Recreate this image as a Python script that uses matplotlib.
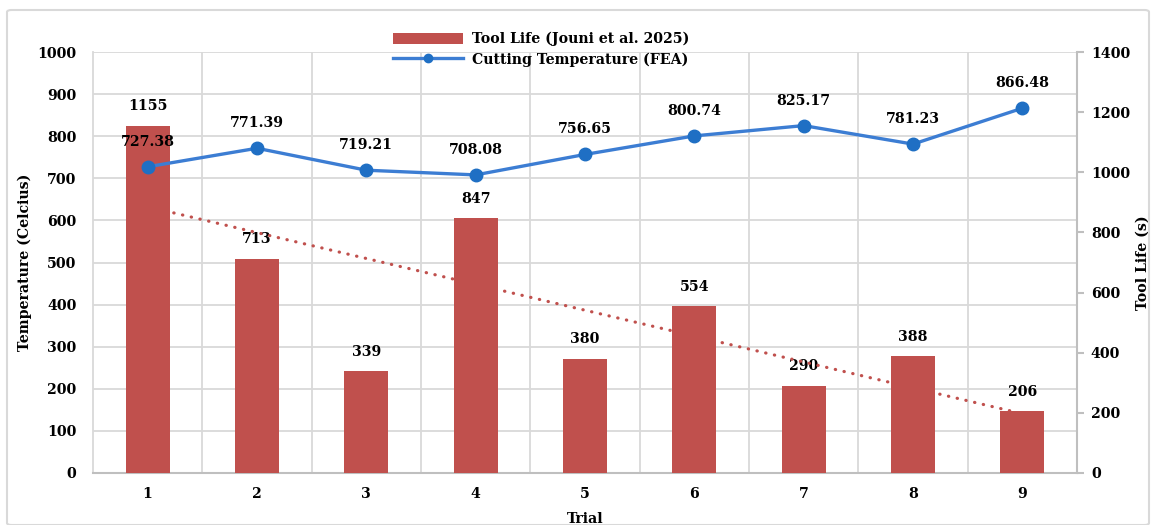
import matplotlib.pyplot as plt
import numpy as np
from matplotlib.patches import FancyBboxPatch
from matplotlib.lines import Line2D
from matplotlib.patches import Patch

plt.rcParams['font.family'] = ['DejaVu Serif']
plt.rcParams['font.weight'] = 'bold'

trials = [1, 2, 3, 4, 5, 6, 7, 8, 9]
tool_life = [1155, 713, 339, 847, 380, 554, 290, 388, 206]
cut_temp = [727.38, 771.39, 719.21, 708.08, 756.65, 800.74, 825.17, 781.23, 866.48]

bar_col = '#C0504D'
line_col = '#3C7DD3'
mark_col = '#1F6FC4'
grid_col = '#D9D9D9'
fs = 10.2

fig = plt.figure(figsize=(11.54, 5.25), dpi=100)
ax = fig.add_axes([93 / 1154, 1 - 473 / 525, (1077 - 93) / 1154, (473 - 52) / 525])
ax2 = ax.twinx()

# outer frame
fig.patches.append(FancyBboxPatch((7 / 1154, 0.0), 1142 / 1154, 1 - 10 / 525,
                                  boxstyle='round,pad=0,rounding_size=0.004',
                                  transform=fig.transFigure, fill=False,
                                  edgecolor=grid_col, linewidth=1.5, zorder=0))

x = np.array(trials)

# temperature axis (left) carries the grid and the line
ax.set_xlim(0.5, 9.5)
ax.set_ylim(0, 1000)
ax.set_yticks(np.arange(0, 1001, 100))
ax.set_xticks(x)
ax.set_xticks(np.arange(1.5, 9.5, 1), minor=True)
ax.grid(axis='y', color=grid_col, linewidth=1.3)
ax.grid(axis='x', which='minor', color=grid_col, linewidth=1.3)
ax.tick_params(axis='x', which='both', length=0, pad=10, labelsize=fs)
ax.tick_params(axis='y', length=0, pad=12, labelsize=fs)
for s in ['top', 'right']:
    ax.spines[s].set_visible(False)
ax.spines['left'].set_color(grid_col)
ax.spines['left'].set_linewidth(1.3)
ax.spines['bottom'].set_color('#BFBFBF')
ax.spines['bottom'].set_linewidth(1.5)
ax.set_ylabel('Temperature (Celcius)', fontsize=fs, fontweight='bold', labelpad=4)
ax.set_xlabel('Trial', fontsize=fs, fontweight='bold', labelpad=8)

# tool life bars on the right axis
ax2.set_ylim(0, 1400)
ax2.set_yticks(np.arange(0, 1401, 200))
ax2.bar(x, tool_life, width=0.4, color=bar_col, zorder=2)
for xi, v in zip(x, tool_life):
    ax2.annotate(f'{v}', (xi, v), xytext=(0, 9), textcoords='offset points',
                 ha='center', va='bottom', fontsize=fs, fontweight='bold')

# linear trend of tool life
k, b = np.polyfit(x, tool_life, 1)
ax2.plot(x, k * x + b, linestyle=(0, (0.1, 2.7)), color=bar_col, linewidth=2.3,
         dash_capstyle='round', zorder=3)

for s in ['top', 'left', 'bottom']:
    ax2.spines[s].set_visible(False)
ax2.spines['right'].set_color('#BFBFBF')
ax2.spines['right'].set_linewidth(1.5)
ax2.tick_params(axis='y', length=5, width=1.5, color='#BFBFBF', pad=5, labelsize=fs)
ax2.set_ylabel('Tool Life (s)', fontsize=fs, fontweight='bold', labelpad=4)

# line drawn on a third overlay so it sits above the bars
ax3 = ax.twinx()
ax3.set_ylim(0, 1000)
ax3.axis('off')
ax3.plot(x, cut_temp, color=line_col, linewidth=2.4, marker='o', markersize=9,
         markerfacecolor=mark_col, markeredgecolor=mark_col, zorder=4)
for xi, v in zip(x, cut_temp):
    ax3.annotate(f'{v:.2f}', (xi, v), xytext=(0, 13), textcoords='offset points',
                 ha='center', va='bottom', fontsize=fs, fontweight='bold')

handles = [Patch(facecolor=bar_col),
           Line2D([0], [0], color=line_col, linewidth=2.4, marker='o', markersize=6,
                  markerfacecolor=mark_col, markeredgecolor=mark_col)]
fig.legend(handles, ['Tool Life (Jouni et al. 2025)', 'Cutting Temperature (FEA)'],
           loc='upper center', bbox_to_anchor=(541 / 1154, 1 - 25 / 525), frameon=False,
           fontsize=fs, handlelength=5.0, handleheight=0.85, labelspacing=0.4,
           borderpad=0, handletextpad=0.6)

fig.savefig('out.png', dpi=100)
